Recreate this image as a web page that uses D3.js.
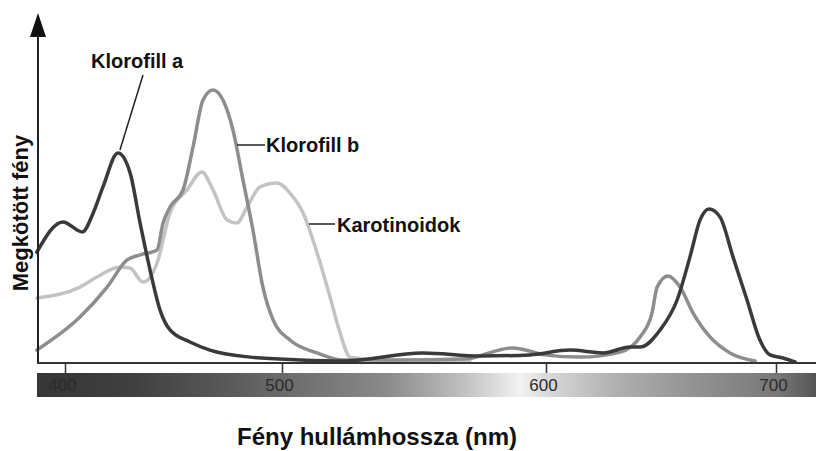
<!DOCTYPE html>
<html lang="hu">
<head>
<meta charset="UTF-8">
<title>Megkötött fény</title>
<script src="https://d3js.org/d3.v7.min.js"></script>
<style>
  body { margin: 0; background: #fff; }
  svg { display: block; font-family: "Liberation Sans", Arial, sans-serif; }
</style>
</head>
<body>
<svg id="chart" width="816" height="451"></svg>
<script>
// Values: wavelength (nm) and relative absorbance (0-100)
var klorofillA_nm  = [387, 399, 408, 413, 417.5, 424.4, 430, 434.6, 439.2, 443.8, 448.4, 457.6, 466.8, 485.3, 506.8, 523.1, 553.4, 575, 593.9, 610.4, 624.8, 636.5, 640.9, 649.6, 657, 662.6, 667, 670.9, 675.7, 681.3, 687.4, 693, 697.4, 703, 708.3];
var klorofillA_abs = [39.6, 50.4, 46.8, 53.6, 62.9, 75, 67.9, 50, 33.2, 18.9, 11.8, 7.5, 4.6, 2.1, 1.1, 0.7, 3.6, 2.5, 2.9, 4.6, 3.6, 5.7, 5.7, 11.8, 22.5, 37.9, 51.1, 55, 52.1, 37.9, 22.5, 8.2, 2.9, 1.8, 0.4];

var klorofillB_nm  = [387, 406.9, 419.4, 428.6, 434.6, 442.4, 445.2, 448.4, 454.4, 459, 463.6, 468.2, 472.8, 477.4, 482, 486.6, 491.2, 495.9, 503, 513.3, 523.1, 544.7, 568.6, 587.5, 599.6, 614.8, 632.2, 640.9, 646.1, 648.3, 653, 658.3, 663.9, 671.3, 680, 690.9];
var klorofillB_abs = [4.6, 16.4, 27.1, 36.8, 38.6, 40.4, 50, 55.7, 61.8, 77.1, 93.9, 97.5, 93.9, 83.2, 65.4, 47.5, 27.1, 15.4, 8.2, 3.6, 1.1, 1.1, 1.4, 5.4, 2.9, 2.1, 3.9, 9.3, 17.9, 27.1, 31.1, 27.1, 17.9, 9.3, 3.6, 0.7];

var karotin_nm  = [387, 406.9, 414.7, 425.3, 430, 435.9, 442.4, 448.4, 456.2, 463.1, 468.2, 474.7, 479.3, 483.9, 489.9, 497.7, 503, 508, 513.3, 518.2, 522, 525.8, 537.1, 571.2];
var karotin_abs = [23.2, 27.1, 30.7, 34.3, 33.9, 28.9, 35.7, 53.6, 61.8, 68.2, 61.8, 51.1, 50, 55.7, 62.9, 64.3, 60.7, 53.6, 39.3, 23.6, 10.7, 2.1, 1.1, 0.7];

var tickValues = [400, 500, 600, 700];
var tickPixels = [65, 282, 546, 776];   // the printed scale is not evenly spaced

// spectrum bar shades along the wavelength axis
var spectrum_nm    = [387, 430, 470, 500, 540, 570, 590, 600, 630, 660, 700, 717];
var spectrum_color = ["#363636", "#3f3f3f", "#565656", "#6a6a6a", "#8a8a8a", "#c2c2c2", "#f2f2f2", "#dadada", "#b0b0b0", "#969696", "#787878", "#565656"];

var svg = d3.select("#chart");
var width = +svg.attr("width");

var left = 37, right = width;

var x = d3.scaleLinear().domain(tickValues).range(tickPixels);
var y = d3.scaleLinear().domain([0, 100]).range([363, 83]);

function zip(a, b) { return a.map(function(v, i) { return [v, b[i]]; }); }

// Spectrum bar
var grad = svg.append("defs").append("linearGradient")
    .attr("id", "spectrum")
    .attr("gradientUnits", "userSpaceOnUse")
    .attr("x1", left).attr("x2", right).attr("y1", 0).attr("y2", 0);
grad.selectAll("stop")
    .data(zip(spectrum_nm, spectrum_color))
    .enter().append("stop")
    .attr("offset", function(d) { return (x(d[0]) - left) / (right - left); })
    .attr("stop-color", function(d) { return d[1]; });

svg.append("rect")
    .attr("x", left).attr("y", 373)
    .attr("width", right - left).attr("height", 24)
    .attr("fill", "url(#spectrum)");

// Curves
var line = d3.line()
    .x(function(d) { return x(d[0]); })
    .y(function(d) { return y(d[1]); })
    .curve(d3.curveMonotoneX);

var series = [
    { data: zip(karotin_nm, karotin_abs), color: "#c3c3c3" },
    { data: zip(klorofillB_nm, klorofillB_abs), color: "#8d8d8d" },
    { data: zip(klorofillA_nm, klorofillA_abs), color: "#3a3a3a" }
];

svg.append("g").selectAll("path")
    .data(series)
    .enter().append("path")
    .attr("d", function(d) { return line(d.data); })
    .attr("fill", "none")
    .attr("stroke", function(d) { return d.color; })
    .attr("stroke-width", 3.5)
    .attr("stroke-linejoin", "round")
    .attr("stroke-linecap", "round");

// X axis with ticks pointing down into the bar
var xAxis = svg.append("g")
    .attr("transform", "translate(0," + y(0) + ")")
    .call(d3.axisBottom(x).tickValues(tickValues).tickSize(10).tickPadding(6));
xAxis.select(".domain").remove();
xAxis.selectAll(".tick line").attr("stroke", "#333").attr("stroke-width", 1.5);
xAxis.selectAll(".tick text")
    .attr("dx", -3)
    .attr("fill", "#2b2b2b")
    .style("font-size", "17px")
    .style("font-family", "'Liberation Sans', Arial, sans-serif");

svg.append("line")
    .attr("x1", left).attr("x2", right)
    .attr("y1", y(0)).attr("y2", y(0))
    .attr("stroke", "#333").attr("stroke-width", 2);

// Y axis with arrow
svg.append("line")
    .attr("x1", left + 1).attr("x2", left + 1)
    .attr("y1", y(0)).attr("y2", 30)
    .attr("stroke", "#222").attr("stroke-width", 2);
svg.append("path")
    .attr("d", "M" + (left + 1) + ",13 L" + (left + 9) + ",37 L" + (left - 7) + ",37 Z")
    .attr("fill", "#111");

// Axis titles
svg.append("text")
    .attr("transform", "translate(28,213) rotate(-90)")
    .attr("text-anchor", "middle")
    .style("font-size", "22px").style("font-weight", "bold")
    .attr("fill", "#111")
    .text("Megkötött fény");

svg.append("text")
    .attr("x", 377).attr("y", 445)
    .attr("text-anchor", "middle")
    .style("font-size", "24px").style("font-weight", "bold")
    .attr("fill", "#111")
    .text("Fény hullámhossza (nm)");

// Curve labels with leader lines
var labels = [
    { text: "Klorofill a", tx: 91, ty: 68, l: [[143, 75], [x(424.4) + 2, y(75) - 3]] },
    { text: "Klorofill b", tx: 266, ty: 152, l: [[237, 145], [265, 145]] },
    { text: "Karotinoidok", tx: 337, ty: 232, l: [[309, 224], [335, 224]] }
];

var lab = svg.append("g");
lab.selectAll("line")
    .data(labels)
    .enter().append("line")
    .attr("x1", function(d) { return d.l[0][0]; })
    .attr("y1", function(d) { return d.l[0][1]; })
    .attr("x2", function(d) { return d.l[1][0]; })
    .attr("y2", function(d) { return d.l[1][1]; })
    .attr("stroke", "#222").attr("stroke-width", 1.5);
lab.selectAll("text")
    .data(labels)
    .enter().append("text")
    .attr("x", function(d) { return d.tx; })
    .attr("y", function(d) { return d.ty; })
    .style("font-size", "20px").style("font-weight", "bold")
    .attr("fill", "#111")
    .text(function(d) { return d.text; });
</script>
</body>
</html>
